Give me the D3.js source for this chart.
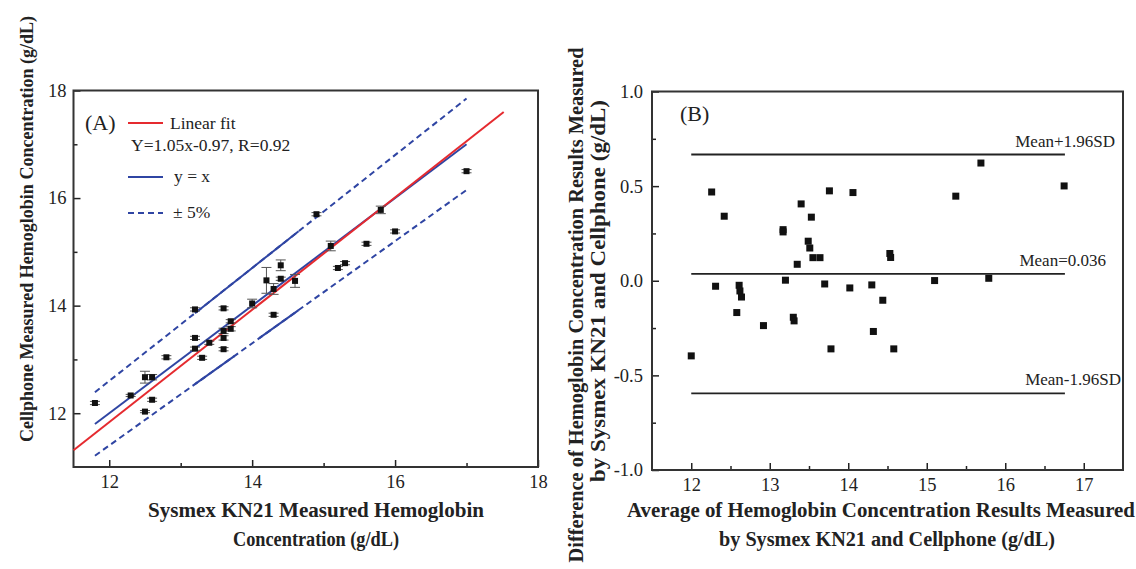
<!DOCTYPE html>
<html>
<head>
<meta charset="utf-8">
<script src="https://cdn.jsdelivr.net/npm/d3@7"></script>
<style>
  body { margin: 0; background: #fff; }
  svg { display: block; font-family: "Liberation Serif", "Times New Roman", serif; }
  .tick text { font-family: "Liberation Serif", "Times New Roman", serif; font-size: 18.5px; fill: #222; }
  .axis-title { font-family: "Liberation Serif", "Times New Roman", serif; font-weight: bold; font-size: 20px; fill: #222; }
</style>
</head>
<body>
<svg id="chart" width="1136" height="569"></svg>
<script>
// Panel A: Sysmex vs cellphone
const aX = [11.8, 12.3, 12.5, 12.5, 12.6, 12.6, 12.8, 13.2, 13.2, 13.2, 13.3, 13.4, 13.6, 13.6, 13.6, 13.6, 13.7,
  13.7, 14.0, 14.2, 14.4, 14.4, 14.3, 14.3, 14.6, 14.9, 15.1, 15.2, 15.3, 15.6, 15.8, 16.0, 17.0];
const aY = [12.19, 12.33, 12.03, 12.67, 12.67, 12.25, 13.04, 13.93, 13.40, 13.20, 13.03, 13.31, 13.95, 13.53, 13.40,
  13.19, 13.71, 13.57, 14.04, 14.47, 14.75, 14.50, 14.31, 13.83, 14.46, 15.70, 15.11, 14.70, 14.79, 15.15, 15.78, 15.38, 16.50];
const aErr = [0.03, 0.02, 0.02, 0.11, 0.05, 0.03, 0.03, 0.03, 0.03, 0.03, 0.03, 0.03, 0.03, 0.05, 0.04, 0.03, 0.03,
  0.04, 0.08, 0.24, 0.1, 0.03, 0.1, 0.03, 0.12, 0.03, 0.09, 0.03, 0.03, 0.03, 0.07, 0.03, 0.03];

// lines in panel A (data units)
const fitX = [11.5, 17.52], fitY = [11.31, 17.6];
const identX = [11.8, 17.0];
const upperSolid = [13.2, 14.65];
const lowerSolid = [[13.2, 13.75], [14.1, 14.65]];

// Panel B: Bland-Altman
const bAvg = [12.26, 12.42, 13.76, 14.06, 13.40, 13.53, 13.17, 13.17, 13.49, 13.51, 13.55, 13.64, 13.35, 12.31,
  12.61, 12.62, 12.64, 13.20, 13.70, 14.02, 12.58, 12.92, 13.30, 13.31, 13.78, 12.00,
  15.69, 15.37, 16.75, 14.53, 14.54, 14.30, 15.10, 15.79, 14.44, 14.32, 14.58];
const bDiff = [0.469, 0.341, 0.475, 0.466, 0.406, 0.336, 0.27, 0.258, 0.209, 0.173, 0.122, 0.122, 0.087, -0.029,
  -0.024, -0.054, -0.086, 0.003, -0.017, -0.038, -0.168, -0.237, -0.193, -0.212, -0.36, -0.397,
  0.622, 0.447, 0.501, 0.144, 0.123, -0.022, 0.001, 0.013, -0.103, -0.268, -0.36];
const bLines = [
  { value: 0.667, label: "Mean+1.96SD" },
  { value: 0.036, label: "Mean=0.036" },
  { value: -0.595, label: "Mean-1.96SD" },
];
const bLineX = [12.0, 16.76];

const svg = d3.select("#chart");
const red = "#e52a2f", blue = "#2f45a3";
const serif = "Liberation Serif, Times New Roman, serif";

// draw the framed axes with inward ticks
function frame(g, x, y, xMajor, xMinor, yMajor, yMinor, yFmt, xPad, yPad) {
  const [x0, x1] = x.range(), [y0, y1] = y.range();
  g.append("g").attr("transform", `translate(0,${y0})`)
    .call(d3.axisBottom(x).tickValues(xMinor).tickSize(-4).tickFormat(""))
    .call(a => a.select(".domain").remove());
  g.append("g").attr("transform", `translate(0,${y0})`)
    .call(d3.axisBottom(x).tickValues(xMajor).tickSizeInner(-7).tickSizeOuter(0).tickPadding(xPad).tickFormat(d3.format("d")))
    .call(a => a.select(".domain").remove());
  g.append("g").attr("transform", `translate(${x0},0)`)
    .call(d3.axisLeft(y).tickValues(yMinor).tickSize(-4).tickFormat(""))
    .call(a => a.select(".domain").remove());
  g.append("g").attr("transform", `translate(${x0},0)`)
    .call(d3.axisLeft(y).tickValues(yMajor).tickSizeInner(-7).tickSizeOuter(0).tickPadding(yPad).tickFormat(yFmt))
    .call(a => a.select(".domain").remove());
  g.selectAll("g").attr("font-family", serif);
  g.selectAll(".tick line").attr("stroke", "#222").attr("stroke-width", 1.5);
  g.append("rect")
    .attr("x", x0).attr("y", y1).attr("width", x1 - x0).attr("height", y0 - y1)
    .attr("fill", "none").attr("stroke", "#333").attr("stroke-width", 2);
}

function title(g, text, x, y, len, rotate, size) {
  g.append("text").attr("class", "axis-title").attr("text-anchor", "middle")
    .attr("transform", `translate(${x},${y})` + (rotate ? " rotate(-90)" : ""))
    .style("font-size", (size || 20) + "px")
    .attr("textLength", len).attr("lengthAdjust", "spacingAndGlyphs")
    .text(text);
}

// ---------- Panel A ----------
const xA = d3.scaleLinear().domain([11.5, 18]).range([73.5, 538]);
const yA = d3.scaleLinear().domain([11, 18]).range([467, 90.5]);
const gA = svg.append("g");
frame(gA, xA, yA, [12, 14, 16, 18], [13, 15, 17], [12, 14, 16, 18], [13, 15, 17], d3.format("d"), 8, 7);

const line = d3.line().x(d => xA(d[0])).y(d => yA(d[1]));
const plotA = gA.append("g");

// +/- 5% dashed lines
[1.05, 0.95].forEach(k => {
  plotA.append("path").attr("d", line(identX.map(v => [v, v * k])))
    .attr("fill", "none").attr("stroke", blue).attr("stroke-width", 2).attr("stroke-dasharray", "6,4");
});
plotA.append("path").attr("d", line(upperSolid.map(v => [v, v * 1.05])))
  .attr("fill", "none").attr("stroke", blue).attr("stroke-width", 2);
lowerSolid.forEach(seg => {
  plotA.append("path").attr("d", line(seg.map(v => [v, v * 0.95])))
    .attr("fill", "none").attr("stroke", blue).attr("stroke-width", 2);
});
// y = x
plotA.append("path").attr("d", line(identX.map(v => [v, v])))
  .attr("fill", "none").attr("stroke", blue).attr("stroke-width", 2);
// linear fit
plotA.append("path").attr("d", line(fitX.map((v, i) => [v, fitY[i]])))
  .attr("fill", "none").attr("stroke", red).attr("stroke-width", 2);

// points with error bars
const ptsA = aX.map((v, i) => ({ x: v, y: aY[i], e: aErr[i] }));
const eb = plotA.selectAll(".eb").data(ptsA).enter().append("g").attr("stroke", "#555").attr("stroke-width", 1);
eb.append("line").attr("x1", d => xA(d.x)).attr("x2", d => xA(d.x))
  .attr("y1", d => yA(d.y - d.e)).attr("y2", d => yA(d.y + d.e));
eb.append("line").attr("x1", d => xA(d.x) - 5).attr("x2", d => xA(d.x) + 5)
  .attr("y1", d => yA(d.y + d.e)).attr("y2", d => yA(d.y + d.e));
eb.append("line").attr("x1", d => xA(d.x) - 5).attr("x2", d => xA(d.x) + 5)
  .attr("y1", d => yA(d.y - d.e)).attr("y2", d => yA(d.y - d.e));
plotA.selectAll(".pa").data(ptsA).enter().append("rect")
  .attr("x", d => xA(d.x) - 3).attr("y", d => yA(d.y) - 3)
  .attr("width", 6).attr("height", 6).attr("fill", "#111");

// legend
gA.append("text").attr("x", 85).attr("y", 130).attr("font-size", 22).attr("fill", "#222").text("(A)");
const leg = gA.append("g").attr("font-size", 17.5).attr("fill", "#222");
leg.append("line").attr("x1", 128).attr("x2", 163).attr("y1", 123).attr("y2", 123).attr("stroke", red).attr("stroke-width", 2);
leg.append("text").attr("x", 170).attr("y", 129).text("Linear fit");
leg.append("text").attr("x", 131).attr("y", 151).text("Y=1.05x-0.97, R=0.92");
leg.append("line").attr("x1", 128).attr("x2", 163).attr("y1", 177).attr("y2", 177).attr("stroke", blue).attr("stroke-width", 2);
leg.append("text").attr("x", 174).attr("y", 182).text("y = x");
leg.append("line").attr("x1", 128).attr("x2", 163).attr("y1", 213).attr("y2", 213).attr("stroke", blue)
  .attr("stroke-width", 2).attr("stroke-dasharray", "6,4");
leg.append("text").attr("x", 173).attr("y", 218).text("± 5%");

// axis titles
title(gA, "Sysmex KN21 Measured Hemoglobin", 316, 517, 336, false);
title(gA, "Concentration (g/dL)", 316, 546, 166, false);
title(gA, "Cellphone Measured Hemoglobin Concentration (g/dL)", 33, 229, 426, true, 18.5);

// ---------- Panel B ----------
const xB = d3.scaleLinear().domain([11.5, 17.5]).range([652, 1123]);
const yB = d3.scaleLinear().domain([-1, 1]).range([470, 91.5]);
const gB = svg.append("g");
const fmtB = d => d3.format(".1f")(d).replace("\u2212", "-");
frame(gB, xB, yB, d3.range(12, 18), d3.range(11.5, 17.6, 0.5).filter(v => v % 1 !== 0 && v > 11.5 && v < 17.5),
  [-1, -0.5, 0, 0.5, 1], [-0.75, -0.25, 0.25, 0.75], fmtB, 8, 9);

gB.selectAll(".bl").data(bLines).enter().append("line")
  .attr("x1", xB(bLineX[0])).attr("x2", xB(bLineX[1]))
  .attr("y1", d => yB(d.value)).attr("y2", d => yB(d.value))
  .attr("stroke", "#222").attr("stroke-width", 1.8);
gB.selectAll(".bt").data(bLines).enter().append("text")
  .attr("text-anchor", "end").attr("font-size", 17).attr("fill", "#222")
  .attr("x", (d, i) => [1115, 1106, 1121][i])
  .attr("y", d => yB(d.value) - 8).text(d => d.label);

gB.selectAll(".pb").data(bAvg.map((v, i) => ({ x: v, y: bDiff[i] }))).enter().append("rect")
  .attr("x", d => xB(d.x) - 3.5).attr("y", d => yB(d.y) - 3.5)
  .attr("width", 7).attr("height", 7).attr("fill", "#111");

gB.append("text").attr("x", 680).attr("y", 121).attr("font-size", 22).attr("fill", "#222").text("(B)");

title(gB, "Average of Hemoglobin Concentration Results Measured", 881, 517, 508, false);
title(gB, "by Sysmex KN21 and Cellphone (g/dL)", 887, 546, 336, false);
title(gB, "Difference of Hemoglobin Concentration Results Measured", 583, 305, 515, true);
title(gB, "by Sysmex KN21 and Cellphone (g/dL)", 605, 291, 382, true);
</script>
</body>
</html>
